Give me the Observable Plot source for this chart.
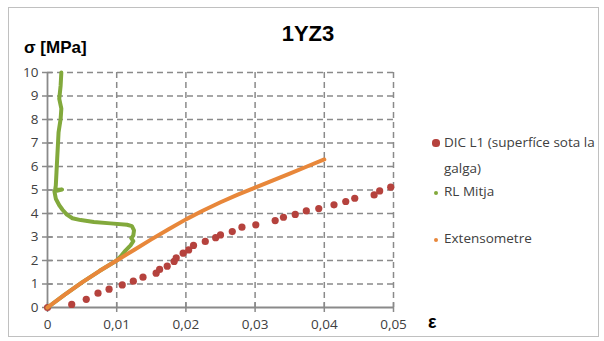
<!DOCTYPE html>
<html>
<head>
<meta charset="utf-8">
<script src="https://cdn.jsdelivr.net/npm/d3@7"></script>
<script src="https://cdn.jsdelivr.net/npm/@observablehq/plot@0.6"></script>
<style>
  html, body { margin: 0; padding: 0; background: #fff; }
  #wrap { position: relative; width: 604px; height: 341px; font-family: "Open Sans", sans-serif; color: #404040; }
  #frame { position: absolute; left: 8px; top: 7px; width: 591px; height: 330px; border: 1px solid #c0c0c0; box-sizing: border-box; }
  .abs { position: absolute; white-space: nowrap; }
  #title { left: 0; width: 616px; text-align: center; top: 21px; font-size: 22px; font-weight: bold; color: #000; font-family: "Liberation Sans", sans-serif; }
  #ylab { left: 24px; top: 38px; font-size: 17px; font-weight: bold; color: #000; font-family: "Liberation Sans", sans-serif; }
  #xlab { left: 428px; top: 312px; font-size: 18px; font-weight: bold; color: #000; font-family: "Liberation Sans", sans-serif; }
  .leg { font-size: 13.5px; color: #404040; }
  .dot { position: absolute; border-radius: 50%; }
  svg { position: absolute; left: 0; top: 0; }
</style>
</head>
<body>
<div id="wrap">
  <div id="frame"></div>
</div>
<script>
const dicStrain = [0, 0.0035, 0.0056, 0.0073, 0.0089, 0.0108, 0.0124, 0.0138, 0.0157, 0.0162, 0.0173, 0.0183, 0.0186, 0.0196, 0.0204, 0.0211, 0.0228, 0.0243, 0.0250, 0.0267, 0.0281, 0.0301, 0.0329, 0.0341, 0.0358, 0.0374, 0.0392, 0.0414, 0.0431, 0.0444, 0.0472, 0.0480, 0.0496];
const dicStress = [0, 0.13, 0.35, 0.61, 0.78, 0.96, 1.12, 1.29, 1.46, 1.62, 1.76, 1.96, 2.11, 2.31, 2.45, 2.64, 2.81, 2.97, 3.09, 3.23, 3.42, 3.52, 3.70, 3.84, 3.96, 4.11, 4.21, 4.37, 4.51, 4.65, 4.79, 4.96, 5.12];

const rlStrain = [0, 0.0025, 0.005, 0.0075, 0.01, 0.0105, 0.0113, 0.0120, 0.0124, 0.0121, 0.0124, 0.0125, 0.0122, 0.0115, 0.0091, 0.0067, 0.0048, 0.0036, 0.0028, 0.0022, 0.0017, 0.0012, 0.0010, 0.0021, 0.0011, 0.0012, 0.0013, 0.0014, 0.0015, 0.0016, 0.0019, 0.0020, 0.0017, 0.0019, 0.0020];
const rlStress = [0, 0.55, 1.07, 1.55, 2.0, 2.15, 2.43, 2.64, 2.82, 2.95, 3.06, 3.28, 3.46, 3.52, 3.58, 3.64, 3.72, 3.80, 3.95, 4.15, 4.35, 4.63, 4.94, 5.02, 5.00, 5.19, 5.76, 6.33, 6.89, 7.46, 8.03, 8.46, 8.88, 9.45, 10.0];

const extStrain = [0, 0.0025, 0.005, 0.0075, 0.01, 0.0125, 0.015, 0.0175, 0.02, 0.0225, 0.025, 0.0275, 0.03, 0.0325, 0.035, 0.0375, 0.04];
const extStress = [0, 0.55, 1.07, 1.55, 2.0, 2.45, 2.9, 3.33, 3.75, 4.13, 4.48, 4.8, 5.1, 5.4, 5.7, 6.0, 6.3];

const xTicks = [0, 0.01, 0.02, 0.03, 0.04, 0.05];
const yTicks = [0, 1, 2, 3, 4, 5, 6, 7, 8, 9, 10];
const legendLabels = ["DIC L1 (superfíce sota la", "galga)", "RL Mitja", "Extensometre"];

const colDIC = "#b5423d", colRL = "#82a93c", colExt = "#e8873a";
const gridCol = "#8a8a8a";

const dic = dicStrain.map((x, i) => ({x, y: dicStress[i]}));
const rl = rlStrain.map((x, i) => ({x, y: rlStress[i]}));
const ext = extStrain.map((x, i) => ({x, y: extStress[i]}));
const fmt = d => d === 0 ? "0" : d.toFixed(2).replace(".", ",");

const chart = Plot.plot({
  width: 604, height: 341,
  marginLeft: 47, marginRight: 211, marginTop: 72, marginBottom: 34,
  style: {background: "transparent", fontFamily: "Open Sans, sans-serif", fontSize: "13.5px", color: "#404040", overflow: "visible"},
  x: {domain: [0, 0.05]},
  y: {domain: [0, 10]},
  marks: [
    Plot.ruleY(yTicks.filter(d => d > 0), {stroke: gridCol, strokeWidth: 1.5, strokeDasharray: "6,4"}),
    Plot.ruleX(xTicks.filter(d => d > 0), {stroke: gridCol, strokeWidth: 1.5, strokeDasharray: "6,4"}),
    Plot.ruleY(yTicks, {x1: 0, x2: 0.00075, stroke: gridCol, strokeWidth: 1.5}),
    Plot.ruleX(xTicks, {y1: 0, y2: 0.2, stroke: gridCol, strokeWidth: 1.5}),
    Plot.axisX({ticks: xTicks, tickFormat: fmt, tickSize: 5, tickPadding: 7, stroke: gridCol, strokeWidth: 1.5, label: null, fontSize: 13.5}),
    Plot.axisY({ticks: yTicks, tickFormat: d => String(d), tickSize: 5, tickPadding: 4, stroke: gridCol, strokeWidth: 1.5, label: null, fontSize: 13.5}),
    Plot.ruleX([0], {stroke: gridCol, strokeWidth: 1.8}),
    Plot.ruleY([0], {stroke: gridCol, strokeWidth: 1.8}),
    Plot.dot(dic, {x: "x", y: "y", r: 3.6, fill: colDIC}),
    Plot.line(rl, {x: "x", y: "y", stroke: colRL, strokeWidth: 4, strokeLinejoin: "round", strokeLinecap: "round"}),
    Plot.line(ext, {x: "x", y: "y", stroke: colExt, strokeWidth: 4, strokeLinejoin: "round", strokeLinecap: "round"})
  ]
});
const wrap = document.getElementById("wrap");
wrap.appendChild(chart);

function addText(id, cls, txt, extra) {
  const d = document.createElement("div");
  if (id) d.id = id;
  d.className = "abs " + (cls || "");
  d.textContent = txt;
  if (extra) Object.assign(d.style, extra);
  wrap.appendChild(d);
  return d;
}
addText("title", "", "1YZ3");
addText("ylab", "", "σ [MPa]");
addText("xlab", "", "ε");
addText(null, "leg", legendLabels[0], {left: "444px", top: "133px"});
addText(null, "leg", legendLabels[1], {left: "444px", top: "159px"});
addText(null, "leg", legendLabels[2], {left: "444px", top: "182px"});
addText(null, "leg", legendLabels[3], {left: "444px", top: "229px"});
function addDot(cx, cy, r, col) {
  const d = document.createElement("div");
  d.className = "dot";
  Object.assign(d.style, {left: (cx - r) + "px", top: (cy - r) + "px", width: 2 * r + "px", height: 2 * r + "px", background: col});
  wrap.appendChild(d);
}
addDot(436, 143, 3.6, colDIC);
addDot(436, 193, 2, colRL);
addDot(436, 240, 2, colExt);
</script>
</body>
</html>
